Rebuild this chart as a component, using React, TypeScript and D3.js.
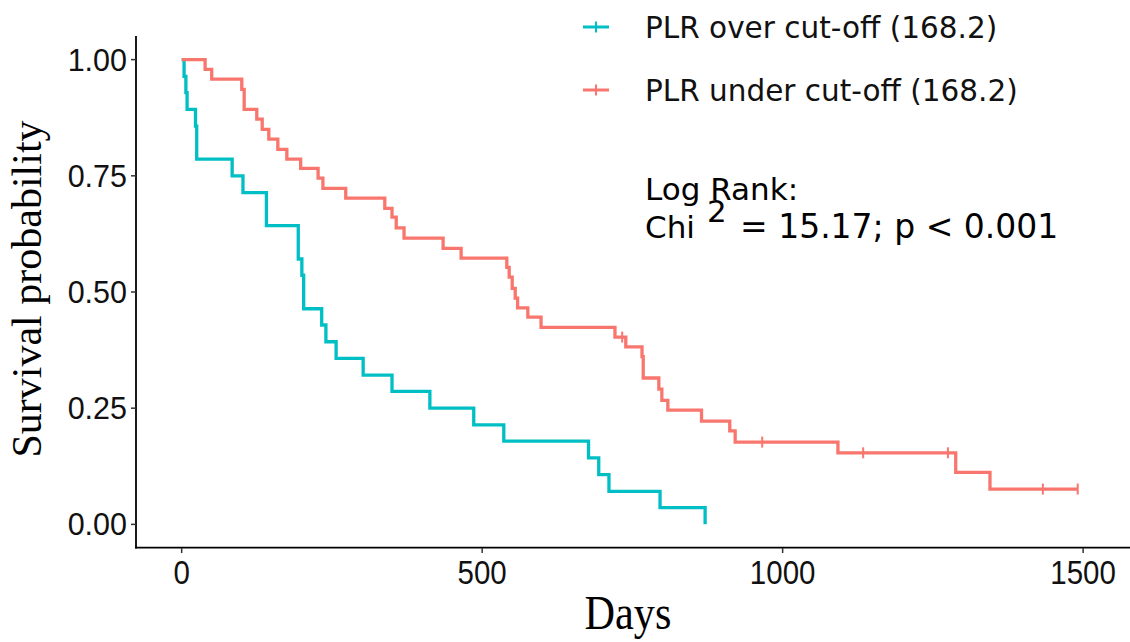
import React from 'react';
import * as d3 from 'd3';

// Kaplan-Meier steps (days, survival after the drop)
const overTimes = [0, 4, 7, 9, 23, 25, 84, 102, 141, 194, 200, 203, 233, 240, 257, 302, 350, 413, 486, 536, 677, 694, 711, 796, 871];
const overSurv = [1, 0.964, 0.929, 0.893, 0.857, 0.786, 0.75, 0.714, 0.643, 0.571, 0.536, 0.464, 0.429, 0.393, 0.357, 0.321, 0.286, 0.25, 0.214, 0.179, 0.143, 0.107, 0.071, 0.036, 0];
const overCensor: number[] = [];

const underTimes = [0, 39, 50, 100, 104, 125, 134, 145, 160, 175, 198, 227, 235, 273, 338, 350, 357, 370, 435, 465, 541, 545, 550, 555, 559, 576, 598, 721, 739, 766, 768, 794, 799, 809, 865, 912, 921, 1092, 1288, 1345];
const underSurv = [1, 0.979, 0.958, 0.936, 0.893, 0.872, 0.85, 0.829, 0.807, 0.786, 0.766, 0.745, 0.723, 0.702, 0.68, 0.661, 0.638, 0.616, 0.594, 0.573, 0.553, 0.532, 0.508, 0.487, 0.466, 0.446, 0.424, 0.403, 0.382, 0.361, 0.315, 0.291, 0.267, 0.246, 0.222, 0.201, 0.177, 0.154, 0.112, 0.076];
const underCensor = [733, 966, 1134, 1275, 1433, 1491];

const xTicks = [0, 500, 1000, 1500];
const yTicks = [0, 0.25, 0.5, 0.75, 1];
const yTickLabels = ['0.00', '0.25', '0.50', '0.75', '1.00'];
const legendLabels = ['PLR over cut-off (168.2)', 'PLR under cut-off (168.2)'];

const TEAL = '#00BFC4';
const SALMON = '#F8766D';

const survAt = (times: number[], surv: number[], t: number) => {
  let s = surv[0];
  times.forEach((tt, i) => {
    if (tt <= t) s = surv[i];
  });
  return s;
};

const App = () => {
  const width = 1130;
  const height = 642;

  const x = d3.scaleLinear().domain([-76, 1578]).range([136, 1130]);
  const y = d3.scaleLinear().domain([-0.05, 1.05]).range([547.6, 36.4]);

  const line = d3
    .line<[number, number]>()
    .x((d) => x(d[0]))
    .y((d) => y(d[1]))
    .curve(d3.curveStepAfter);

  const series = [
    { times: overTimes, surv: overSurv, censor: overCensor, color: TEAL },
    { times: underTimes, surv: underSurv, censor: underCensor, color: SALMON },
  ].map((s) => {
    const pts: [number, number][] = s.times.map((t, i) => [t, s.surv[i]]);
    const lastC = s.censor.length ? s.censor[s.censor.length - 1] : 0;
    if (lastC > s.times[s.times.length - 1]) pts.push([lastC, s.surv[s.surv.length - 1]]);
    return { ...s, pts };
  });

  const sans = 'Liberation Sans, Arial, sans-serif';
  const serif = 'Liberation Serif, Times New Roman, serif';
  const legendFont = 'DejaVu Sans, Verdana, sans-serif';

  return (
    <div style={{ position: 'absolute', left: 0, top: 0 }}>
      <svg width={width} height={height} style={{ display: 'block', background: '#fff' }}>
        {/* curves */}
        {series.map((s, i) => (
          <g key={i}>
            <path d={line(s.pts) || ''} fill="none" stroke={s.color} strokeWidth={3.3} />
            {s.censor.map((c, j) => {
              const cx = x(c);
              const cy = y(survAt(s.times, s.surv, c));
              return <line key={j} x1={cx} x2={cx} y1={cy - 5.5} y2={cy + 5.5} stroke={s.color} strokeWidth={2} />;
            })}
          </g>
        ))}

        {/* axes */}
        <line x1={136} x2={136} y1={36} y2={548.4} stroke="#000" strokeWidth={1.8} />
        <line x1={135.1} x2={1130} y1={547.6} y2={547.6} stroke="#000" strokeWidth={1.8} />
        {yTicks.map((t, i) => (
          <g key={t}>
            <line x1={131} x2={136} y1={y(t)} y2={y(t)} stroke="#333" strokeWidth={1.5} />
            <text x={127} y={y(t) + 11} textAnchor="end" fontFamily={sans} fontSize={30.5} fill="#111">
              {yTickLabels[i]}
            </text>
          </g>
        ))}
        {xTicks.map((t) => (
          <g key={t} transform={`translate(${x(t)},0)`}>
            <line x1={0} x2={0} y1={548} y2={553} stroke="#333" strokeWidth={1.5} />
            <text transform="translate(0,584) scale(0.88,1)" textAnchor="middle" fontFamily={sans} fontSize={33.5} fill="#111">
              {t}
            </text>
          </g>
        ))}

        {/* axis titles */}
        <text transform="translate(628,629) scale(0.88,1)" textAnchor="middle" fontFamily={serif} fontSize={48} fill="#000">
          Days
        </text>
        <text transform="translate(41,289) rotate(-90)" textAnchor="middle" fontFamily={serif} fontSize={42} fill="#000">
          Survival probability
        </text>

        {/* legend */}
        {legendLabels.map((lab, i) => {
          const cy = 27 + i * 63;
          const col = i === 0 ? TEAL : SALMON;
          return (
            <g key={lab}>
              <line x1={583} x2={609} y1={cy} y2={cy} stroke={col} strokeWidth={3} />
              <line x1={596} x2={596} y1={cy - 5.5} y2={cy + 5.5} stroke={col} strokeWidth={2} />
              <text x={645} y={cy + 10.5} fontFamily={legendFont} fontSize={29.5} fill="#111">
                {lab}
              </text>
            </g>
          );
        })}

        {/* log rank annotation */}
        <text x={645} y={200} fontFamily={legendFont} fontSize={31} fill="#000">
          Log Rank:
        </text>
        <text x={645} y={238} fontFamily={legendFont} fontSize={31} fill="#000">
          Chi
        </text>
        <text x={707} y={222} fontFamily={legendFont} fontSize={31} fill="#000">
          2
        </text>
        <text x={740} y={238} fontFamily={legendFont} fontSize={33} fill="#000">
          = 15.17; p &lt; 0.001
        </text>
      </svg>
    </div>
  );
};

export default App;
